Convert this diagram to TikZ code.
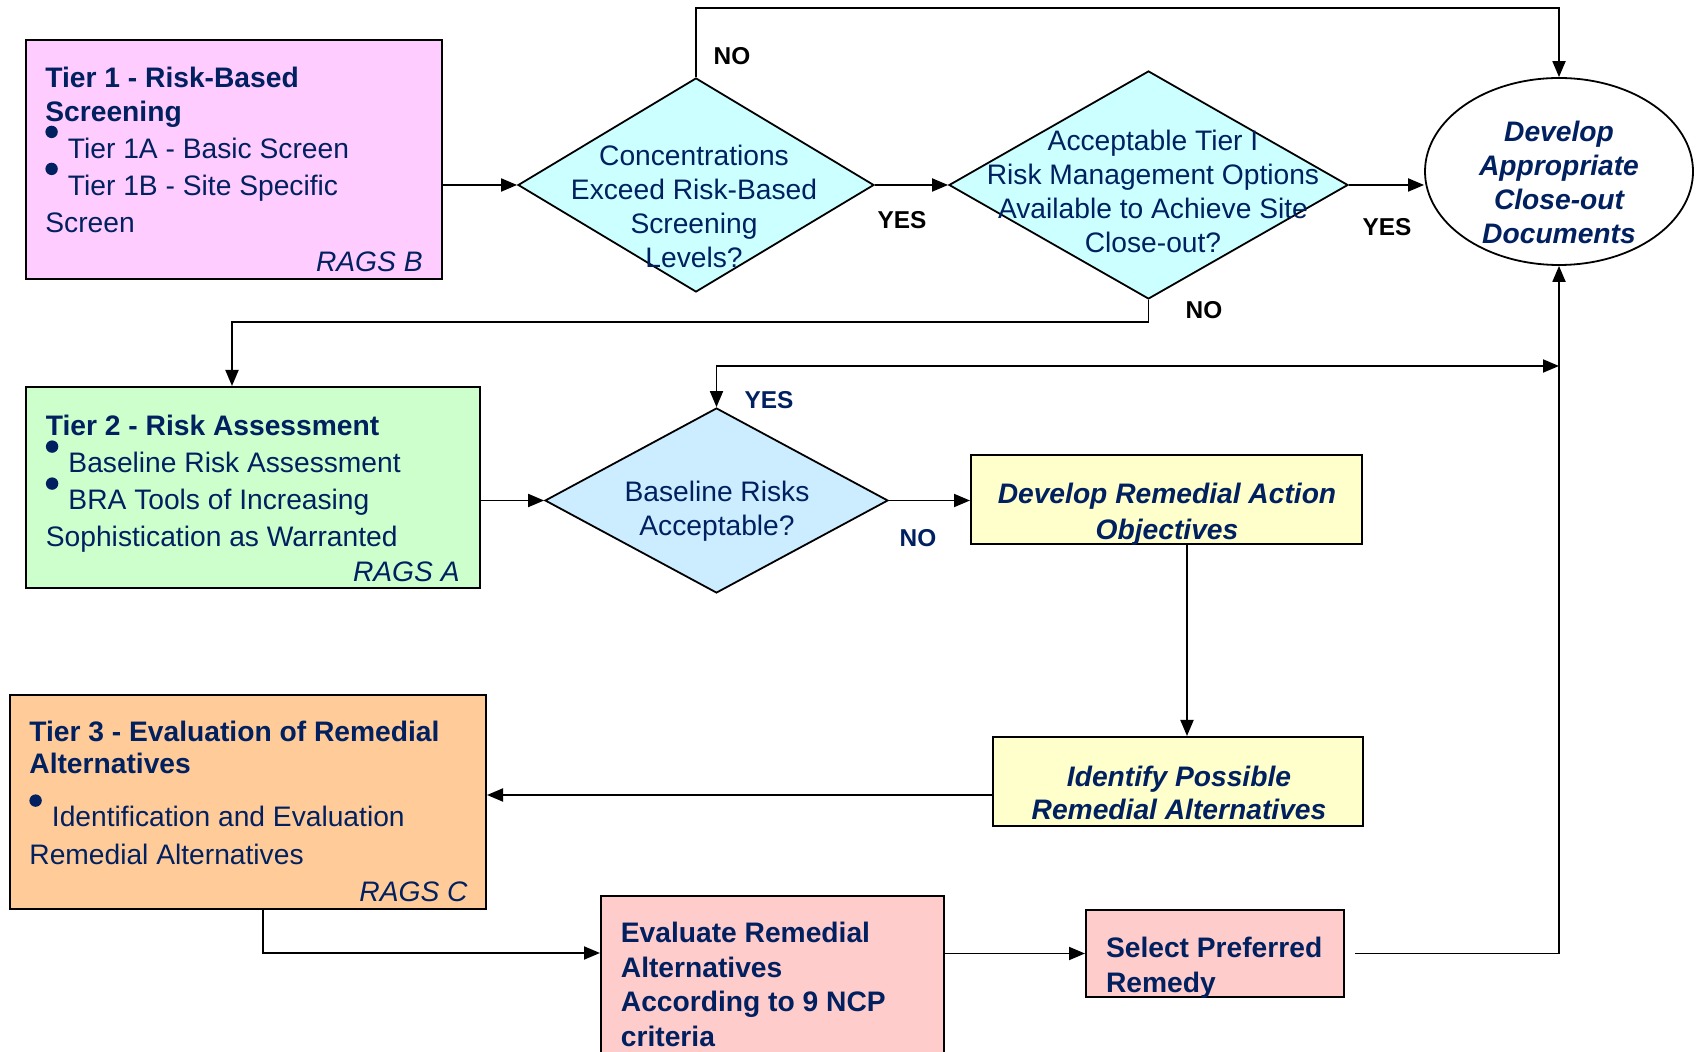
\documentclass[tikz,border=0pt]{standalone}
\usepackage{fontspec}
\setmainfont{Liberation Sans}
\usetikzlibrary{shapes.geometric,arrows.meta,calc}

\definecolor{navy}{RGB}{0,32,96}
\definecolor{pinkfill}{RGB}{255,204,255}
\definecolor{cyanfill}{RGB}{204,255,255}
\definecolor{bluefill}{RGB}{204,236,255}
\definecolor{greenfill}{RGB}{204,255,204}
\definecolor{yellowfill}{RGB}{255,255,204}
\definecolor{tanfill}{RGB}{255,204,153}
\definecolor{rosefill}{RGB}{255,204,204}

\newcommand\fbody{\fontsize{14.1pt}{18.5pt}\selectfont}
\newcommand\fdia{\fontsize{14.1pt}{17pt}\selectfont}
% raised round bullet used in the tier boxes
\newcommand\bul{\makebox[0.8em][l]{\smash{\tikz[baseline=0pt]\fill[navy] (0.22em,0.93em) circle[radius=0.22em];}}}

\begin{document}
\begin{tikzpicture}[x=0.5pt,y=-0.5pt,
  box/.style={rectangle,draw=black,line width=1pt,inner sep=0pt},
  decide/.style={diamond,draw=black,line width=0.9pt,inner sep=0pt},
  txt/.style={text=navy,inner sep=0pt,align=left},
  ctxt/.style={text=navy,inner sep=0pt,align=center},
  lbl/.style={inner sep=0pt,font=\fontsize{12.2pt}{14pt}\selectfont\bfseries},
  tip/.tip={Triangle[length=8pt,width=6.5pt]},
  arr/.style={line width=0.95pt,-tip},
  arrboth/.style={line width=0.95pt,tip-tip}]

\fill[white] (0,0) rectangle (1698,1052);
\useasboundingbox (0,0) rectangle (1698,1052);
\clip (0,0) rectangle (1698,1052);

% Tier 1
\node[box,fill=pinkfill,minimum width=208pt,minimum height=119.5pt] (t1) at (234,159.5) {};
\node[txt,anchor=north west,font=\fbody] (t1t) at (45,66.5)
  {\textbf{Tier 1 - Risk-Based}\\[-1.6pt]\textbf{Screening}\\\bul Tier 1A - Basic Screen\\\bul Tier 1B - Site Specific\\Screen};
\node[txt,anchor=base east,font=\fbody\itshape] (t1r) at (423,272) {RAGS B};

% first two decisions and the close-out ellipse
\node[decide,fill=cyanfill,minimum width=178pt,minimum height=107pt] (d1) at (696,185) {};
\node[ctxt,font=\fdia] (d1t) at (694,206) {Concentrations\\Exceed Risk-Based\\Screening\\Levels?};

\node[decide,fill=cyanfill,minimum width=199.5pt,minimum height=114pt] (d2) at (1148.5,185) {};
\node[ctxt,font=\fdia] (d2t) at (1153,191) {Acceptable Tier I\\Risk Management Options\\Available to Achieve Site\\Close-out?};

\node[ellipse,draw=black,line width=0.9pt,fill=white,minimum width=134pt,minimum height=93.5pt,inner sep=0pt] (ell) at (1559,171.5) {};
\node[ctxt,font=\fdia\bfseries\itshape] (ellt) at (1559,182) {Develop\\Appropriate\\Close-out\\Documents};

% Tier 2
\node[box,fill=greenfill,minimum width=227pt,minimum height=100.5pt] (t2) at (253,487.5) {};
\node[txt,anchor=north west,font=\fbody] (t2t) at (45.5,415)
  {\textbf{Tier 2 - Risk Assessment}\\\bul Baseline Risk Assessment\\\bul BRA Tools of Increasing\\Sophistication as Warranted};
\node[txt,anchor=base east,font=\fbody\itshape] (t2r) at (460,582) {RAGS A};

\node[decide,fill=bluefill,minimum width=171.5pt,minimum height=92.5pt] (d3) at (716.5,500.5) {};
\node[ctxt,font=\fdia] (d3t) at (717,511) {Baseline Risks\\Acceptable?};

\node[box,fill=yellowfill,minimum width=195.5pt,minimum height=44.5pt] (drao) at (1166.5,499.5) {};
\node[ctxt,font=\fontsize{14.1pt}{17.75pt}\selectfont\bfseries\itshape] (draot) at (1167,514) {Develop Remedial Action\\Objectives};

\node[box,fill=yellowfill,minimum width=185pt,minimum height=44.5pt] (ipra) at (1178,781.5) {};
\node[ctxt,font=\fontsize{14.1pt}{16.75pt}\selectfont\bfseries\itshape] (iprat) at (1179,793) {Identify Possible\\Remedial Alternatives};

% Tier 3
\node[box,fill=tanfill,minimum width=238pt,minimum height=107pt] (t3) at (248,802) {};
\node[txt,anchor=north west,font=\fontsize{14.1pt}{16.25pt}\selectfont] (t3t) at (29,720.5)
  {\textbf{Tier 3 - Evaluation of Remedial}\\\textbf{Alternatives}\\[10.25pt]\bul Identification and Evaluation\\[2.75pt]Remedial Alternatives};
\node[txt,anchor=base east,font=\fbody\itshape] (t3r) at (468,901) {RAGS C};

\node[box,fill=rosefill,minimum width=171.5pt,minimum height=102pt] (eval) at (772.5,998) {};
\node[txt,anchor=north west,font=\fontsize{14.1pt}{17.25pt}\selectfont\bfseries] (evalt) at (620.5,922)
  {Evaluate Remedial\\Alternatives\\According to 9 NCP\\criteria};

\node[box,fill=rosefill,minimum width=129pt,minimum height=43.5pt] (sel) at (1215,953.5) {};
\node[txt,anchor=north west,font=\fontsize{14.1pt}{17.25pt}\selectfont\bfseries] (selt) at (1105.6,937)
  {Select Preferred\\Remedy};

% connectors
\coordinate (ytop) at (0,8);
\coordinate (b2) at (232,322);
\coordinate (yyes) at (1559,366);
\coordinate (vx) at (1187,0);
\coordinate (y3) at (0,795);
\coordinate (ye) at (263,953);

\draw[arr] (t1.east |- d1.west) -- (d1.west);
\draw[arr] (d1.north) -- (d1.north |- ytop) -- (ell.north |- ytop) -- (ell.north);
\draw[arr] (d1.east) -- (d2.west);
\draw[arr] (d2.east) -- (d2.east -| ell.west);
\draw[arr] (d2.south) |- (b2) -- (b2 |- t2.north);
\draw[arr] (t2.east |- d3.west) -- (d3.west);
\draw[arrboth] (yyes) -| (d3.north);
\draw[arr] (d3.east) -- (d3.east -| drao.west);
\draw[arr] (drao.south -| vx) -- (ipra.north -| vx);
\draw[arr] (ipra.west |- y3) -- (t3.east |- y3);
\draw[arr] (t3.south -| ye) |- (eval.west |- ye);
\draw[arr] (eval.east |- sel.west) -- (sel.west);
\draw[arr] ($(sel.east)+(10,0)$) -| (ell.south);

% branch labels
\node[lbl] (no1) at (732,56) {NO};
\node[lbl] (yes1) at (902,220) {YES};
\node[lbl] (yes2) at (1387,227) {YES};
\node[lbl] (no2) at (1204,310) {NO};
\node[lbl,text=navy] (yes3) at (769,400) {YES};
\node[lbl,text=navy] (no3) at (918,538) {NO};
\end{tikzpicture}
\end{document}
